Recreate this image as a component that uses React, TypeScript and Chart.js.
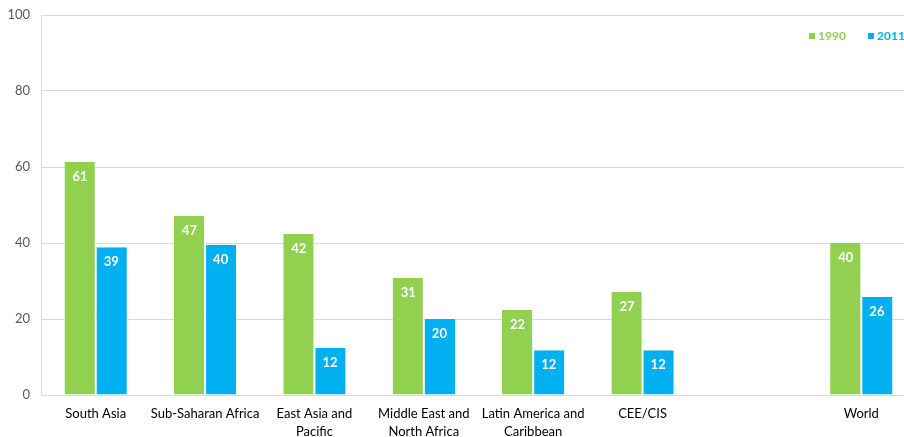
import React, { useEffect, useRef } from "react";
import { Chart, registerables } from "chart.js";

Chart.register(...registerables);

const categories: (string | string[])[] = [
  "South Asia",
  "Sub-Saharan Africa",
  ["East Asia and", "Pacific"],
  ["Middle East and", "North Africa"],
  ["Latin America and", "Caribbean"],
  "CEE/CIS",
  "",
  "World",
];
const values1990: (number | null)[] = [61.3, 47.1, 42.4, 30.8, 22.4, 27.1, null, 40.0];
const values2011: (number | null)[] = [38.9, 39.5, 12.4, 20.0, 11.8, 11.8, null, 25.8];
const seriesNames = ["1990", "2011"];
const yTicks = [0, 20, 40, 60, 80, 100];

const GREEN = "#92D050";
const BLUE = "#00B0F0";
const FONT = "Lato, 'Open Sans', sans-serif";

const labelPlugin = {
  id: "barLabels",
  afterDatasetsDraw(chart: any) {
    const ctx = chart.ctx;
    ctx.save();
    ctx.font = `bold 13px ${FONT}`;
    ctx.fillStyle = "#ffffff";
    ctx.textAlign = "center";
    ctx.textBaseline = "middle";
    chart.data.datasets.forEach((ds: any, i: number) => {
      const meta = chart.getDatasetMeta(i);
      meta.data.forEach((bar: any, j: number) => {
        const v = ds.data[j];
        if (v == null) return;
        ctx.fillText(String(Math.round(v)), bar.x, bar.y + 15);
      });
    });
    ctx.restore();
  },
  afterDraw(chart: any) {
    const ctx = chart.ctx;
    ctx.save();
    ctx.font = `bold 12px ${FONT}`;
    ctx.textBaseline = "middle";
    ctx.textAlign = "left";
    const items = [
      { x: 809, text: seriesNames[0], color: GREEN },
      { x: 868, text: seriesNames[1], color: BLUE },
    ];
    items.forEach((it) => {
      ctx.fillStyle = it.color;
      ctx.fillRect(it.x, 33, 6, 6);
      ctx.fillText(it.text, it.x + 9, 36);
    });
    ctx.restore();
  },
};

export default function App() {
  const ref = useRef<HTMLCanvasElement>(null);
  useEffect(() => {
    document.body.style.margin = "0";
    const chart = new Chart(ref.current!, {
      type: "bar",
      data: {
        labels: categories,
        datasets: [
          {
            label: seriesNames[0],
            data: values1990,
            backgroundColor: GREEN,
            borderColor: "#ffffff",
            borderWidth: { left: 0, right: 1, top: 0, bottom: 0 } as any,
          },
          {
            label: seriesNames[1],
            data: values2011,
            backgroundColor: BLUE,
            borderColor: "#ffffff",
            borderWidth: { left: 1, right: 0, top: 0, bottom: 0 } as any,
          },
        ],
      },
      options: {
        animation: false,
        responsive: false,
        maintainAspectRatio: false,
        layout: { padding: { top: 15, right: 4, left: 0, bottom: 0 } },
        plugins: {
          legend: { display: false },
          tooltip: { enabled: false },
        },
        datasets: {
          bar: { categoryPercentage: 0.57, barPercentage: 1 },
        },
        scales: {
          x: {
            grid: { display: false, drawTicks: false },
            border: { display: true, color: "#d9d9d9" },
            ticks: {
              color: "#000000",
              font: { family: FONT, size: 13, lineHeight: 1.35 },
              maxRotation: 0,
              autoSkip: false,
              padding: 10,
            },
            afterFit(scale: any) {
              scale.height = 42;
            },
          },
          y: {
            min: 0,
            max: 100,
            afterBuildTicks(scale: any) {
              scale.ticks = yTicks.map((v) => ({ value: v }));
            },
            grid: { color: "#d9d9d9", drawTicks: false },
            border: { display: true, color: "#d9d9d9" },
            ticks: {
              color: "#595959",
              font: { family: FONT, size: 13 },
              padding: 11,
            },
            afterFit(scale: any) {
              scale.width = 41;
              scale.paddingTop = 0;
              scale.paddingBottom = 0;
            },
          },
        },
      },
      plugins: [labelPlugin],
    });
    return () => chart.destroy();
  }, []);
  return (
    <div style={{ width: 904, height: 437, overflow: "hidden" }}>
      <canvas ref={ref} width={920} height={437} style={{ display: "block" }} />
    </div>
  );
}
